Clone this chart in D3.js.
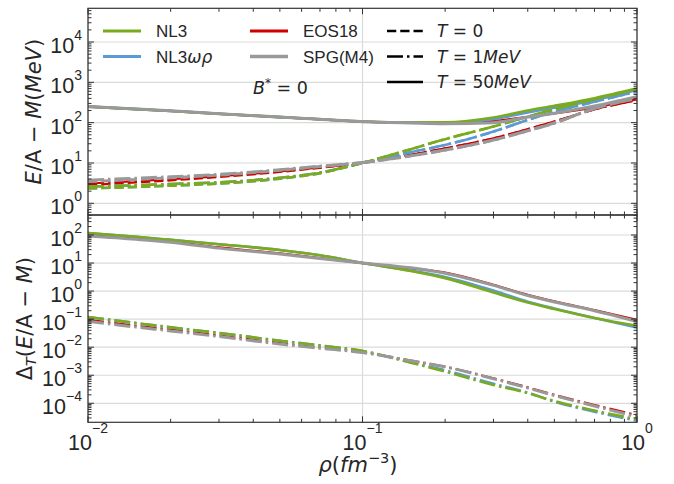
<!DOCTYPE html>
<html>
<head>
<meta charset="utf-8">
<script src="https://cdn.jsdelivr.net/npm/d3@7"></script>
<style>
	body { margin: 0; background: #fff; }
	text { fill: #262626; }
	.sans { font-family: "Liberation Sans", Arial, sans-serif; }
	.math { font-family: "DejaVu Sans", sans-serif; }
</style>
</head>
<body>
<div id="app"></div>
<script>
// density grid (fm^-3)
const rho = [0.01, 0.015, 0.02, 0.03, 0.05, 0.07, 0.1, 0.15, 0.2, 0.3, 0.4, 0.5, 0.7, 1.0];

// upper panel: E/A - M (MeV)
const nl3T0   = [2.35, 2.55, 2.75, 3.1, 4.1, 5.6, 10, 22, 39, 80, 141, 215, 380, 675];
const nl3T1   = [2.6, 2.8, 3.0, 3.3, 4.3, 5.75, 10.1, 22, 39, 80, 141, 215, 380, 675];
const nl3T50  = [250, 217, 195, 166, 137, 121, 107, 101, 102, 134, 200, 262, 405, 710];
const nl3wrT0  = [2.35, 2.55, 2.75, 3.1, 4.1, 5.6, 10, 18.5, 28, 60, 117, 187, 330, 590];
const nl3wrT1  = [2.6, 2.8, 3.0, 3.3, 4.3, 5.75, 10.1, 18.5, 28, 60, 117, 187, 330, 590];
const nl3wrT50 = [250, 217, 195, 166, 137, 121, 107, 100, 100, 122, 178, 235, 362, 650];
const eos18T0  = [2.85, 3.3, 3.7, 4.5, 6.0, 7.6, 10, 16, 23, 41, 69, 107, 213, 362];
const eos18T1  = [3.1, 3.55, 3.95, 4.7, 6.2, 7.75, 10.1, 16, 23, 41, 69, 107, 213, 362];
const eos18T50 = [250, 217, 195, 166, 137, 121, 106, 99, 98, 110, 140, 170, 240, 380];
const spgT0  = [3.45, 3.9, 4.3, 5.0, 6.6, 8.2, 10.2, 15, 21, 37, 63, 98, 225, 400];
const spgT1  = [3.75, 4.2, 4.55, 5.2, 6.8, 8.35, 10.3, 15, 21, 37, 63, 98, 225, 400];
const spgT50 = [252, 218, 196, 167, 138, 121, 106, 98, 94, 100, 138, 172, 258, 440];

// lower panel: Delta_T(E/A - M)
const nl3D1   = [0.118, 0.072, 0.051, 0.032, 0.017, 0.0115, 0.0074, 0.0028, 0.00135, 0.00045, 0.00023, 0.00012, 0.000055, 0.000027];
const nl3D50  = [118, 86, 67, 47, 29, 19, 10, 5.2, 2.9, 0.89, 0.39, 0.23, 0.11, 0.058];
const nl3wrD1  = [0.118, 0.072, 0.051, 0.032, 0.017, 0.0115, 0.0072, 0.0029, 0.0015, 0.0005, 0.00024, 0.000115, 0.00005, 0.000024];
const nl3wrD50 = [118, 86, 67, 47, 29, 19, 10, 5.4, 3.2, 1.05, 0.42, 0.24, 0.11, 0.05];
const eos18D1  = [0.095, 0.058, 0.042, 0.026, 0.014, 0.0096, 0.0066, 0.0033, 0.002, 0.00078, 0.00037, 0.0002, 0.000087, 0.000038];
const eos18D50 = [100, 75, 58, 36, 22, 15, 10, 6.5, 4.6, 1.68, 0.74, 0.43, 0.21, 0.094];
const spgD1  = [0.083, 0.052, 0.038, 0.024, 0.013, 0.0092, 0.0064, 0.0033, 0.002, 0.00075, 0.00035, 0.00019, 0.00008, 0.000033];
const spgD50 = [92, 70, 55, 34, 21, 14.5, 10, 6.8, 4.3, 1.6, 0.7, 0.41, 0.2, 0.083];

const models = ['NL3', 'NL3ωρ', 'EOS18', 'SPG(M4)'];
const colors = { 'NL3': '#7aab1e', 'NL3ωρ': '#5b9bd5', 'EOS18': '#d00000', 'SPG(M4)': '#999999' };
const widths = { 'NL3': 2.6, 'NL3ωρ': 2.6, 'EOS18': 2.2, 'SPG(M4)': 3 };
const DASHED = '9.25,4', DASHDOT = '16,4,2.5,4';

const upperSeries = [
	{ m: 'EOS18', v: eos18T0, d: DASHED }, { m: 'EOS18', v: eos18T1, d: DASHDOT }, { m: 'EOS18', v: eos18T50, d: null },
	{ m: 'NL3ωρ', v: nl3wrT0, d: DASHED }, { m: 'NL3ωρ', v: nl3wrT1, d: DASHDOT }, { m: 'NL3ωρ', v: nl3wrT50, d: null },
	{ m: 'NL3', v: nl3T0, d: DASHED }, { m: 'NL3', v: nl3T1, d: DASHDOT }, { m: 'NL3', v: nl3T50, d: null },
	{ m: 'SPG(M4)', v: spgT0, d: DASHED }, { m: 'SPG(M4)', v: spgT1, d: DASHDOT }, { m: 'SPG(M4)', v: spgT50, d: null }
];
const lowerSeries = [
	{ m: 'EOS18', v: eos18D1, d: DASHDOT }, { m: 'EOS18', v: eos18D50, d: null },
	{ m: 'NL3ωρ', v: nl3wrD1, d: DASHDOT }, { m: 'NL3ωρ', v: nl3wrD50, d: null },
	{ m: 'NL3', v: nl3D1, d: DASHDOT }, { m: 'NL3', v: nl3D50, d: null },
	{ m: 'SPG(M4)', v: spgD1, d: DASHDOT }, { m: 'SPG(M4)', v: spgD50, d: null }
];

const W = 674, H = 484;
const left = 88, right = 637;
const svg = d3.select('#app').append('svg').attr('width', W).attr('height', H);

const x = d3.scaleLog().domain([0.01, 1]).range([left, right]);
const panels = [
	{ top: 8.3, bottom: 215, y: d3.scaleLog().domain([0.513, 6.85e4]).range([215, 8.3]), series: upperSeries, decades: [0, 1, 2, 3, 4] },
	{ top: 215, bottom: 422.3, y: d3.scaleLog().domain([2.1e-5, 516]).range([422.3, 215]), series: lowerSeries, decades: [-4, -3, -2, -1, 0, 1, 2] }
];

function logTicks (domain) {
	const major = [], minor = [];
	const lo = Math.floor(Math.log10(domain[0])), hi = Math.ceil(Math.log10(domain[1]));
	for (let e = lo; e <= hi; e++) {
		for (let k = 1; k < 10; k++) {
			const v = k * Math.pow(10, e);
			if (v < domain[0] * 0.999 || v > domain[1] * 1.001) continue;
			(k === 1 ? major : minor).push(v);
		}
	}
	return { major, minor };
}

const xt = logTicks(x.domain());
const supStr = e => (e < 0 ? '\u2212' + (-e) : '' + e);

panels.forEach((p, i) => {
	const g = svg.append('g');
	const clipId = 'clip' + i;
	svg.append('clipPath').attr('id', clipId)
		.append('rect').attr('x', left).attr('y', p.top).attr('width', right - left).attr('height', p.bottom - p.top);

	// grid
	p.decades.forEach(e => {
		const yy = p.y(Math.pow(10, e));
		g.append('line').attr('x1', left).attr('x2', right).attr('y1', yy).attr('y2', yy)
			.attr('stroke', '#dadada').attr('stroke-width', 1.2);
	});
	xt.major.forEach(v => {
		g.append('line').attr('x1', x(v)).attr('x2', x(v)).attr('y1', p.top).attr('y2', p.bottom)
			.attr('stroke', '#dadada').attr('stroke-width', 1.2);
	});

	// curves
	const line = d3.line()
		.x(d => x(d[0]))
		.y(d => p.y(d[1]))
		.curve(d3.curveMonotoneX);
	const lines = g.append('g').attr('clip-path', `url(#${clipId})`);
	p.series.forEach(s => {
		lines.append('path')
			.attr('d', line(rho.map((r, j) => [r, s.v[j]])))
			.attr('fill', 'none')
			.attr('stroke', colors[s.m])
			.attr('stroke-width', widths[s.m])
			.attr('stroke-dasharray', s.d);
	});

	// ticks, inward on all sides
	const yt = logTicks(p.y.domain());
	const tick = (x1, y1, x2, y2) => g.append('line')
		.attr('x1', x1).attr('y1', y1).attr('x2', x2).attr('y2', y2)
		.attr('stroke', '#333').attr('stroke-width', 1);
	yt.major.forEach(v => { const yy = p.y(v); tick(left, yy, left + 6, yy); tick(right, yy, right - 6, yy); });
	yt.minor.forEach(v => { const yy = p.y(v); tick(left, yy, left + 3.5, yy); tick(right, yy, right - 3.5, yy); });
	xt.major.forEach(v => { const xx = x(v); tick(xx, p.top, xx, p.top + 6); tick(xx, p.bottom, xx, p.bottom - 6); });
	xt.minor.forEach(v => { const xx = x(v); tick(xx, p.top, xx, p.top + 3.5); tick(xx, p.bottom, xx, p.bottom - 3.5); });

	g.append('rect').attr('x', left).attr('y', p.top).attr('width', right - left).attr('height', p.bottom - p.top)
		.attr('fill', 'none').attr('stroke', '#333').attr('stroke-width', 1.2);

	// y tick labels
	p.decades.forEach(e => {
		const yy = p.y(Math.pow(10, e));
		const t = g.append('text').attr('class', 'sans').attr('x', left - 6).attr('y', yy + 11)
			.attr('text-anchor', 'end').style('font-size', '21.5px');
		t.append('tspan').text('10');
		t.append('tspan').attr('dy', -13).style('font-size', '14px').text(supStr(e));
	});
});

// x tick labels
[-2, -1, 0].forEach(e => {
	const t = svg.append('text').attr('class', 'sans').attr('x', x(Math.pow(10, e))).attr('y', 450)
		.attr('text-anchor', 'middle').style('font-size', '21.5px');
	t.append('tspan').text('10');
	t.append('tspan').attr('dy', -17).style('font-size', '14px').text(supStr(e));
});

// axis labels
const xl = svg.append('text').attr('class', 'math').attr('x', 358).attr('y', 472)
	.attr('text-anchor', 'middle').style('font-size', '21px');
xl.append('tspan').style('font-style', 'italic').text('ρ');
xl.append('tspan').text('(');
xl.append('tspan').style('font-style', 'italic').text('fm');
xl.append('tspan').attr('dy', -9).style('font-size', '14.5px').text('\u22123');
xl.append('tspan').attr('dy', 9).text(')');

const yl1 = svg.append('text').attr('class', 'math').attr('transform', `translate(41,${(8.3 + 215) / 2}) rotate(-90)`)
	.attr('text-anchor', 'middle').style('font-size', '21px');
yl1.append('tspan').style('font-style', 'italic').text('E');
yl1.append('tspan').text('/A \u2212 ');
yl1.append('tspan').style('font-style', 'italic').text('M');
yl1.append('tspan').text('(');
yl1.append('tspan').style('font-style', 'italic').text('MeV');
yl1.append('tspan').text(')');

const yl2 = svg.append('text').attr('class', 'math').attr('transform', `translate(32,${(215 + 422.3) / 2}) rotate(-90)`)
	.attr('text-anchor', 'middle').style('font-size', '21px');
yl2.append('tspan').text('Δ');
yl2.append('tspan').attr('dy', 4).style('font-style', 'italic').style('font-size', '14.5px').text('T');
yl2.append('tspan').attr('dy', -4).text('(');
yl2.append('tspan').style('font-style', 'italic').text('E');
yl2.append('tspan').text('/A \u2212 ');
yl2.append('tspan').style('font-style', 'italic').text('M');
yl2.append('tspan').text(')');

// legend
const rows = [31, 56.5, 82];
const legModels = [
	{ m: 'NL3', cx: 103, row: 0 }, { m: 'NL3ωρ', cx: 103, row: 1 },
	{ m: 'EOS18', cx: 250, row: 0 }, { m: 'SPG(M4)', cx: 250, row: 1 }
];
legModels.forEach(d => {
	const yy = rows[d.row];
	svg.append('line').attr('x1', d.cx).attr('x2', d.cx + 38).attr('y1', yy).attr('y2', yy)
		.attr('stroke', colors[d.m]).attr('stroke-width', d.m === 'SPG(M4)' ? 3.5 : 3);
	const t = svg.append('text').attr('class', 'sans').attr('x', d.cx + 53).attr('y', yy + 6).style('font-size', '17px');
	if (d.m === 'NL3ωρ') {
		t.append('tspan').text('NL3');
		t.append('tspan').attr('class', 'math').style('font-style', 'italic').text('ωρ');
	} else {
		t.text(d.m);
	}
});
const legT = [
	{ dash: DASHED, parts: [['T', 1], [' = 0', 0]] },
	{ dash: DASHDOT, parts: [['T', 1], [' = 1', 0], ['MeV', 1]] },
	{ dash: null, parts: [['T', 1], [' = 50', 0], ['MeV', 1]] }
];
legT.forEach((d, i) => {
	const yy = rows[i];
	svg.append('line').attr('x1', 387).attr('x2', 423).attr('y1', yy).attr('y2', yy)
		.attr('stroke', '#000').attr('stroke-width', 2.5).attr('stroke-dasharray', d.dash);
	const t = svg.append('text').attr('class', 'math').attr('x', 437).attr('y', yy + 6).style('font-size', '17px');
	d.parts.forEach(p => t.append('tspan').style('font-style', p[1] ? 'italic' : 'normal').text(p[0]));
});

// B* = 0
const bt = svg.append('text').attr('class', 'math').attr('x', 253).attr('y', 94).style('font-size', '17.5px');
bt.append('tspan').style('font-style', 'italic').text('B');
bt.append('tspan').attr('dy', -7).style('font-size', '12px').text('*');
bt.append('tspan').attr('dy', 7).text(' = 0');
</script>
</body>
</html>
